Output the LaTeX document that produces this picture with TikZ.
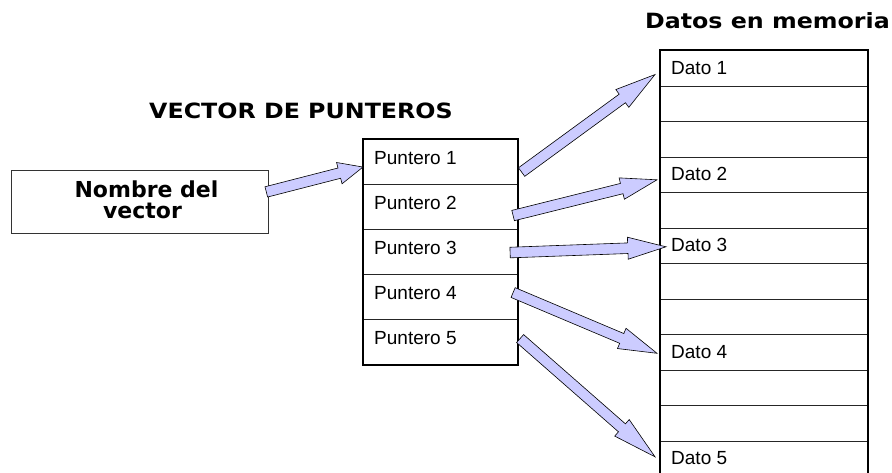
\documentclass[tikz,border=0pt]{standalone}
\usepackage{fontspec}
\setmainfont{Liberation Sans}
\newfontfamily\vfont{DejaVu Sans}
\usetikzlibrary{calc}
\definecolor{arrfill}{RGB}{204,204,255}
\tikzset{
  plain/.style={font=\fontsize{19}{22}\selectfont, anchor=base west, inner sep=0pt},
  titletxt/.style={font=\vfont\bfseries\fontsize{21}{24}\selectfont, inner sep=0pt},
  nametxt/.style={font=\vfont\bfseries\fontsize{22}{24}\selectfont, inner sep=0pt, anchor=base},
  thickline/.style={line width=2.2pt, line cap=rect},
  rowbox/.style={draw=black!85, line width=1.1pt, inner sep=0pt, anchor=north west},
  blockarr/.style={draw=black, line width=0.6pt, fill=arrfill, line join=miter},
}
% #1 tail, #2 tip ; head length proportional to arrow length
\newcommand\blockarrow[2]{%
  \coordinate (h-#1) at ($(#2)!0.245!(#1)$);
  \draw[blockarr] ($(#1)!5.3pt!-90:(#2)$) -- ($(h-#1)!5.3pt!-90:(#2)$)
    -- ($(h-#1)!11pt!-90:(#2)$) -- (#2) -- ($(h-#1)!11pt!90:(#2)$)
    -- ($(h-#1)!5.3pt!90:(#2)$) -- ($(#1)!5.3pt!90:(#2)$) -- cycle;}
\begin{document}
\begin{tikzpicture}[x=1pt,y=-1pt]
\useasboundingbox (0,0) rectangle (892,472);
\clip (0,0) rectangle (892,472);
% titles
\node[titletxt, anchor=base west] (t1) at (149,118.5) {\scalebox{1.13}[1]{VECTOR DE PUNTEROS}};
\node[titletxt, anchor=base east] (t2) at (890,28.5) {\scalebox{1.13}[1]{Datos en memoria}};
% nombre box
\node[draw=black!80, line width=0.8pt, minimum width=257pt, minimum height=63pt,
      inner sep=0pt, anchor=north west] (nombre) at (10.5,170) {};
\node[nametxt] (n1) at (146.5,197) {Nombre del};
\node[nametxt] (n2) at (142.5,218.5) {vector};
% vector de punteros
\foreach \i in {1,...,5}{
  \node[rowbox, minimum width=154pt, minimum height=45pt] (p\i) at (363,{139+(\i-1)*45}) {};
  \node[plain] (pt\i) at ($(p\i.north west)+(11,25)$) {Puntero \i};
}
\draw[thickline] (p1.north west) rectangle (p5.south east);
% memoria
\foreach \i in {1,...,12}{
  \node[rowbox, minimum width=207pt, minimum height=35.5pt] (m\i) at (660,{50+(\i-1)*35.5}) {};
}
\draw[thickline] (m12.south west) -- (m1.north west) -- (m1.north east) -- (m12.south east);
\node[plain] (d1) at ($(m1.north west)+(11,24)$) {Dato 1};
\node[plain] (d2) at ($(m4.north west)+(11,24)$) {Dato 2};
\node[plain] (d3) at ($(m6.north west)+(11,24)$) {Dato 3};
\node[plain] (d4) at ($(m9.north west)+(11,24)$) {Dato 4};
\node[plain] (d5) at ($(m12.north west)+(11,24)$) {Dato 5};
% arrow end points
\coordinate (a0) at ($(nombre.east)+(-2,-10)$);
\coordinate (b0) at ($(p1.west)+(0,5)$);
\coordinate (a1) at ($(p1.east)+(3.5,10)$);
\coordinate (b1) at ($(m1.west)+(-5,6.25)$);
\coordinate (a2) at ($(p2.east)+(-5,8.5)$);
\coordinate (b2) at ($(m4.west)+(-3,5)$);
\coordinate (a3) at ($(p3.east)+(-8,0.5)$);
\coordinate (b3) at ($(m6.west)+(6,1)$);
\coordinate (a4) at ($(p4.east)+(-5,-4.5)$);
\coordinate (b4) at ($(m9.west)+(-3,1)$);
\coordinate (a5) at ($(p5.east)+(2,-3.5)$);
\coordinate (b5) at ($(m12.west)+(-5,-2)$);
\blockarrow{a0}{b0}
\blockarrow{a1}{b1}
\blockarrow{a2}{b2}
\blockarrow{a3}{b3}
\blockarrow{a4}{b4}
\blockarrow{a5}{b5}
\end{tikzpicture}
\end{document}
